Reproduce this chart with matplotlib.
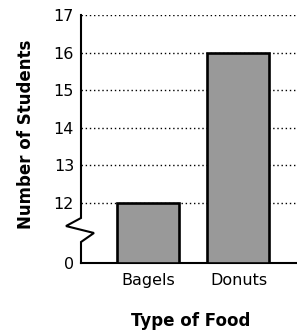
import numpy as np
import matplotlib
matplotlib.use("Agg")
import matplotlib.pyplot as plt

categories = ["Bagels", "Donuts"]
values = [12, 16]
yticks = [0, 12, 13, 14, 15, 16, 17]

plt.rcParams['font.family'] = ['DejaVu Sans']

BREAK = 12.0
GAP = 1.6

def forward(v):
    v = np.asarray(v, dtype=float)
    return np.where(v < BREAK, v * GAP / BREAK, v - BREAK + GAP)

def inverse(u):
    u = np.asarray(u, dtype=float)
    return np.where(u < GAP, u * BREAK / GAP, u + BREAK - GAP)

fig = plt.figure(figsize=(2.97, 3.32), dpi=100)
ax = fig.add_axes([81/297, (332-263)/332, 216/297, 248/332])
ax.set_yscale('function', functions=(forward, inverse))
ax.set_ylim(0, 17)
ax.set_xlim(-0.74, 1.647)

x = np.arange(len(categories))
ax.bar(x, values, width=0.685, color='#999999', edgecolor='black', linewidth=1.9, zorder=3)

ax.set_yticks(yticks)
ax.set_yticklabels([str(t) for t in yticks], fontsize=11.5)
ax.set_xticks(x)
ax.set_xticklabels(categories, fontsize=11.5)
ax.tick_params(axis='both', length=0)
ax.tick_params(axis='y', pad=5)
ax.tick_params(axis='x', pad=7)
ax.yaxis.set_minor_locator(matplotlib.ticker.NullLocator())

ax.grid(axis='y', linestyle=(0, (1, 2)), color='black', linewidth=1.0, zorder=0)
ax.set_axisbelow(True)

for s in ['top', 'right', 'left']:
    ax.spines[s].set_visible(False)
ax.spines['bottom'].set_linewidth(1.5)

# broken y axis with zigzag
zx = [0, 0, -0.0694, 0.060, 0, 0]
zy = [1.0, 0.1815, 0.149, 0.121, 0.0847, 0.0]
ax.plot(zx, zy, transform=ax.transAxes, color='black', linewidth=1.5,
        clip_on=False, zorder=5, solid_joinstyle='miter')

fig.text(26/297, 1 - 134/332, "Number of Students", rotation=90, ha='center', va='center',
         fontsize=12, fontweight='bold')
fig.text(191/297, 1 - 321/332, "Type of Food", ha='center', va='center',
         fontsize=12, fontweight='bold')

fig.savefig("out.png", dpi=100)
